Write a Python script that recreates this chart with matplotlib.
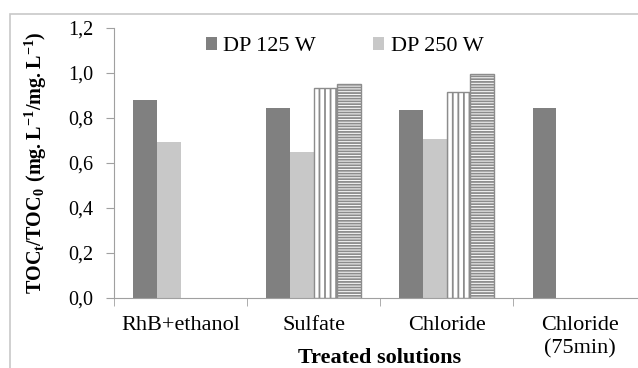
import numpy as np
import matplotlib
matplotlib.use("Agg")
import matplotlib.pyplot as plt
from matplotlib.patches import Rectangle
from matplotlib.ticker import FuncFormatter

categories = ["RhB+ethanol", "Sulfate", "Chloride", "Chloride\n(75min)"]
dp125 = [0.879, 0.842, 0.833, 0.842]
dp250 = [0.693, 0.647, 0.705, np.nan]
series3 = [np.nan, 0.931, 0.916, np.nan]
series4 = [np.nan, 0.950, 0.996, np.nan]

plt.rcParams['font.family'] = ['Liberation Serif', 'DejaVu Serif']
plt.rcParams['hatch.linewidth'] = 1.3
plt.rcParams['mathtext.fontset'] = 'custom'
plt.rcParams['mathtext.rm'] = 'Liberation Serif'
plt.rcParams['mathtext.bf'] = 'Liberation Serif:bold'

fig = plt.figure(figsize=(6.38, 3.68), dpi=100)
ax = fig.add_axes([0.1787, 0.191, 0.834, 0.7337])

# outer chart border
fig.patches.append(Rectangle((10 / 638, -0.05), 1.1, (368 - 14) / 368 + 0.05,
                             transform=fig.transFigure, fill=False,
                             edgecolor='#c8c8c8', linewidth=1.2))

x = np.arange(len(categories))
w = 0.177
grey = '#8c8c8c'
ax.bar(x - 1.5 * w, dp125, w, color='#808080', label='DP 125 W')
ax.bar(x - 0.5 * w, dp250, w, color='#c8c8c8', label='DP 250 W')
ax.bar(x + 0.5 * w, series3, w, facecolor='white', edgecolor=grey,
       hatch='|||', linewidth=1.0, label='_nolegend_')
ax.bar(x + 1.5 * w, series4, w, facecolor='white', edgecolor=grey,
       hatch='------', linewidth=1.0, label='_nolegend_')

ax.set_xlim(-0.5, 3.5)
ax.set_ylim(0, 1.2)
ax.set_yticks(np.arange(0, 1.21, 0.2))
ax.yaxis.set_major_formatter(FuncFormatter(lambda v, p: f"{v:.1f}".replace('.', ',')))
ax.set_xticks(x)
ax.set_xticklabels(categories, linespacing=1.3)
ax.set_xticks(np.arange(-0.5, 3.6, 1), minor=True)
ax.tick_params(axis='x', which='major', length=0, pad=13, labelsize=16)
ax.tick_params(axis='x', which='minor', length=6, color='#a0a0a0')
ax.tick_params(axis='y', length=6, color='#a0a0a0', labelsize=14.5, pad=9)

for s in ['top', 'right']:
    ax.spines[s].set_visible(False)
for s in ['left', 'bottom']:
    ax.spines[s].set_color('#a0a0a0')

ax.set_xlabel("Treated solutions", fontsize=16, fontweight='bold')
ax.xaxis.set_label_coords(0.5, -0.185)
ax.set_ylabel(r"$\mathbf{TOC_t/TOC_0\ (mg.L^{-1}/mg.L^{-1})}$", fontsize=14.5)
ax.yaxis.set_label_coords(-0.122, 0.5)

ax.legend(loc='center left', bbox_to_anchor=(0.172, 0.93), ncol=2, frameon=False,
          fontsize=16, handlelength=0.5, handleheight=0.5, handletextpad=0.3,
          columnspacing=2.55, borderpad=0, borderaxespad=0)

fig.savefig("out.png", dpi=100)
